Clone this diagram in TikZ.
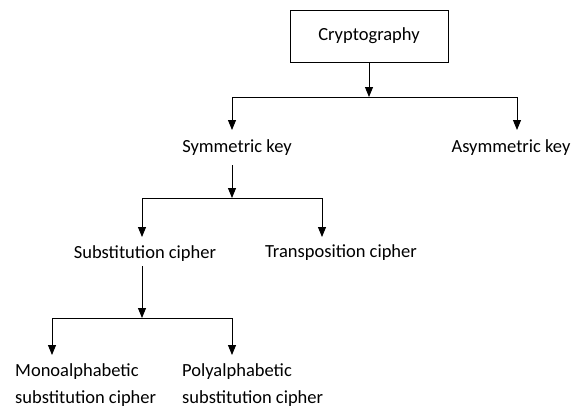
\documentclass[tikz,border=0pt]{standalone}
\usepackage{fontspec}
\setmainfont{Carlito}
\usepackage{tikz}
\usetikzlibrary{arrows.meta}
\tikzstyle{topic} = [rectangle, minimum width=158pt, minimum height=52pt, text centered, draw=black, line width=0.9pt]
\tikzstyle{leaf} = [inner sep=0pt, anchor=base]
\tikzstyle{arrow} = [line width=0.9pt,-{Triangle[length=10pt,width=8pt]}]

\begin{document}
\begin{tikzpicture}[x=1pt, y=-1pt, font=\fontsize{18.5}{27}\selectfont]
		\useasboundingbox (0,0) rectangle (584,410);
		
		\node (Crypto) [topic] at (369,36) {Cryptography};
		\node (SymKey) [leaf] at (237,152) {Symmetric key};
		\node (AsymKey) [leaf] at (511,152) {Asymmetric key};
		\node (SubCipher) [leaf] at (145,258) {Substitution cipher};
		\node (TransCipher) [leaf] at (341,257) {Transposition cipher};
		\node (MonoCipher) [leaf, anchor=base west, align=left] at (15,403) {Monoalphabetic\\substitution cipher};
		\node (PolyCipher) [leaf, anchor=base west, align=left] at (182,403) {Polyalphabetic\\substitution cipher};
		
		% junctions and arrow tips
		\coordinate (split1) at (369,97);
		\coordinate (symTip) at (232,130);
		\coordinate (asymTip) at (517,130);
		\coordinate (split2) at (232,198);
		\coordinate (subTip) at (142,237);
		\coordinate (transTip) at (322,237);
		\coordinate (split3) at (142,318);
		\coordinate (monoTip) at (52,355);
		\coordinate (polyTip) at (232,355);
		
		\draw [arrow] (Crypto) -- (split1);
		\draw [arrow] (split1) -| (symTip);
		\draw [arrow] (split1) -| (asymTip);
		\draw [arrow] ([yshift=-13pt]SymKey.base -| split2) -- (split2);
		\draw [arrow] (split2) -| (subTip);
		\draw [arrow] (split2) -| (transTip);
		\draw [arrow] ([yshift=-8pt]SubCipher.base -| split3) -- (split3);
		\draw [arrow] (split3) -| (monoTip);
		\draw [arrow] (split3) -| (polyTip);
	\end{tikzpicture}
\end{document}
